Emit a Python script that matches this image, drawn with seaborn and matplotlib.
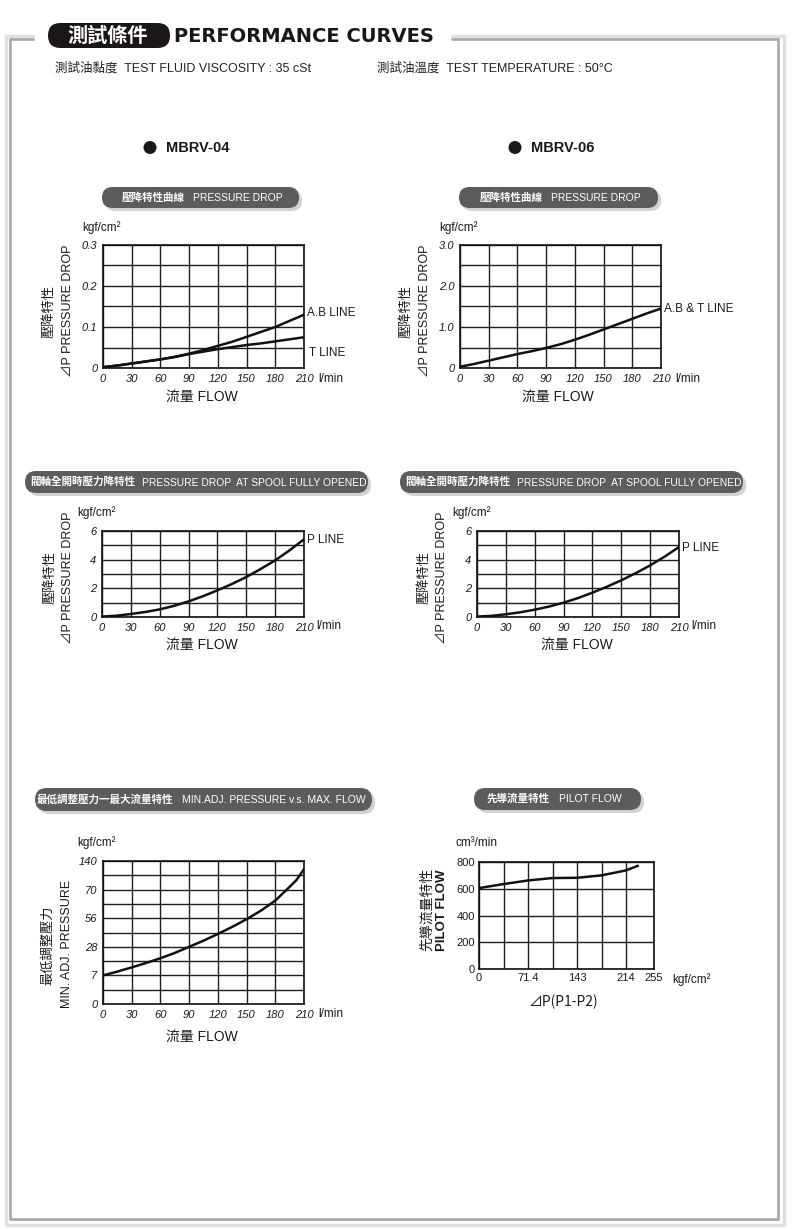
import numpy as np
import pandas as pd
import matplotlib
matplotlib.use("Agg")
import matplotlib.pyplot as plt
import seaborn as sns
from matplotlib.patches import FancyBboxPatch, Circle
from matplotlib.lines import Line2D

# ---------------- data ----------------
flow = [0, 15, 30, 45, 60, 75, 90, 105, 120, 135, 150, 165, 180, 195, 210]
mbrv04_ab_line = [0.002, 0.006, 0.011, 0.016, 0.021, 0.027, 0.035, 0.044, 0.054, 0.064, 0.076, 0.088, 0.100, 0.115, 0.130]
mbrv04_t_line = [0.002, 0.006, 0.011, 0.016, 0.021, 0.027, 0.034, 0.040, 0.046, 0.051, 0.056, 0.060, 0.065, 0.070, 0.075]
mbrv06_abt_line = [0.03, 0.10, 0.18, 0.26, 0.34, 0.41, 0.49, 0.58, 0.69, 0.81, 0.94, 1.07, 1.20, 1.33, 1.45]
mbrv04_p_line = [0.03, 0.09, 0.21, 0.35, 0.53, 0.78, 1.09, 1.45, 1.86, 2.30, 2.79, 3.35, 3.95, 4.65, 5.42]
mbrv06_p_line = [0.03, 0.08, 0.19, 0.33, 0.51, 0.73, 1.00, 1.32, 1.70, 2.11, 2.56, 3.06, 3.60, 4.21, 4.88]

minadj_flow = [0, 15, 30, 45, 60, 75, 90, 105, 120, 135, 150, 165, 180, 192, 202, 210]
minadj_pressure = [7, 9.8, 12.9, 16.1, 19.6, 23.5, 28, 34, 40.6, 47.5, 55, 59.7, 64.6, 70, 93, 120]

pilot_dp = [0, 35.7, 71.4, 107, 143, 178.5, 214, 231.6]
pilot_flow = [605, 635, 662, 680, 682, 700, 737, 772]

flow_ticks = [0, 30, 60, 90, 120, 150, 180, 210]
flow_labels = ["0", "30", "60", "90", "120", "150", "180", "210"]
pd04_ticks = [0, 0.1, 0.2, 0.3]
pd04_labels = ["0", "0.1", "0.2", "0.3"]
pd06_ticks = [0, 1, 2, 3]
pd06_labels = ["0", "1.0", "2.0", "3.0"]
spool_ticks = [0, 2, 4, 6]
spool_labels = ["0", "2", "4", "6"]
minadj_ticks = [0, 7, 28, 56, 70, 140]
minadj_labels = ["0", "7", "28", "56", "70", "140"]
pilot_xticks = [0, 71.4, 143, 214, 255]
pilot_xlabels = ["0", "71.4", "143", "214", "255"]
pilot_yticks = [0, 200, 400, 600, 800]
pilot_ylabels = ["0", "200", "400", "600", "800"]

# ---------------- setup ----------------
sns.set_theme(style="white")
plt.rcParams["font.family"] = ["Liberation Sans", "Noto Sans CJK TC", "DejaVu Sans"]
CJK = ["Noto Sans CJK TC", "DejaVu Sans"]
LAT = ["Liberation Sans", "Noto Sans CJK TC", "DejaVu Sans"]

W, H = 800, 1229
fig = plt.figure(figsize=(W / 100, H / 100), dpi=100)
fig.patch.set_facecolor("white")
bg = fig.add_axes([0, 0, 1, 1], zorder=0)
bg.set_xlim(0, W)
bg.set_ylim(H, 0)
bg.axis("off")


def add_ax(x0, y0, x1, y1):
    return fig.add_axes([x0 / W, 1 - y1 / H, (x1 - x0) / W, (y1 - y0) / H], zorder=2)


def txt(x, y, s, size, family=LAT, **kw):
    kw.setdefault("va", "center")
    kw.setdefault("ha", "left")
    kw.setdefault("color", "#1a1a1a")
    bg.text(x, y, s, fontsize=size, family=family, **kw)


# frame
bg.add_line(Line2D([33, 6, 6, 784, 784, 452], [36, 36, 1225, 1225, 36, 36], color="#e0e0e0", lw=2.5))
bg.add_line(Line2D([33, 10, 10, 778, 778, 452], [39, 39, 1219, 1219, 39, 39], color="#ababab", lw=2.0))

# header
bg.add_patch(FancyBboxPatch((48, 23), 122, 25, boxstyle="round,pad=0,rounding_size=12.5",
                            fc="#1c1717", ec="none"))
txt(108, 35.5, "測試條件", 14.5, family=CJK, weight="heavy", color="white", ha="center")
txt(174, 36, "PERFORMANCE CURVES", 14, family=["DejaVu Sans"], weight="bold", color="#1c1717")
txt(55, 68, "測試油黏度  TEST FLUID VISCOSITY : 35 cSt", 9, color="#222222")
txt(377, 68, "測試油溫度  TEST TEMPERATURE : 50°C", 9, color="#222222")

# model headings
for cx, name in [(150, "MBRV-04"), (515, "MBRV-06")]:
    bg.add_patch(Circle((cx, 147.5), 6.5, fc="#1c1717", ec="none"))
    txt(cx + 16, 148, name, 10.5, weight="bold", color="#1c1717")


def pill(x0, y0, x1, y1, cjk_x, cjk, en_x, en, en_size=7.5):
    h = y1 - y0
    bg.add_patch(FancyBboxPatch((x0 + 3, y0 + 3), x1 - x0, h,
                                boxstyle="round,pad=0,rounding_size=%f" % (h / 2),
                                fc="#d2d2d2", ec="none"))
    bg.add_patch(FancyBboxPatch((x0, y0), x1 - x0, h,
                                boxstyle="round,pad=0,rounding_size=%f" % (h / 2),
                                fc="#5c5c5c", ec="none"))
    yc = (y0 + y1) / 2
    txt(cjk_x, yc, cjk, 7.6, family=CJK, weight="bold", color="white")
    txt(en_x, yc + 0.5, en, en_size, color="white")


pill(102, 187, 299, 208, 122, "壓降特性曲線", 193, "PRESSURE DROP")
pill(459, 187, 658, 208, 480, "壓降特性曲線", 551, "PRESSURE DROP")
pill(25, 471, 368, 493, 30, "閥軸全開時壓力降特性", 142, "PRESSURE DROP  AT SPOOL FULLY OPENED", 7.4)
pill(400, 471, 743, 493, 405, "閥軸全開時壓力降特性", 517, "PRESSURE DROP  AT SPOOL FULLY OPENED", 7.4)
pill(35, 788, 372, 811, 37, "最低調整壓力一最大流量特性", 182, "MIN.ADJ. PRESSURE v.s. MAX. FLOW")
pill(474, 788, 641, 810, 487, "先導流量特性", 559, "PILOT FLOW")


def style(ax, xgrid, ygrid, xt, xtl, yt, ytl, italic=True):
    ax.set_xticks(xgrid, minor=True)
    ax.set_yticks(ygrid, minor=True)
    ax.set_xticks(xt)
    ax.set_xticklabels(xtl)
    ax.set_yticks(yt)
    ax.set_yticklabels(ytl)
    ax.grid(True, which="both", color="#1e1e1e", lw=1.0)
    ax.set_axisbelow(True)
    ax.tick_params(which="both", length=0, labelsize=8, pad=4, colors="#1a1a1a")
    for s in ax.spines.values():
        s.set_visible(True)
        s.set_color("#111111")
        s.set_linewidth(1.2)
    for lab in ax.get_xticklabels() + ax.get_yticklabels():
        lab.set_fontstyle("italic" if italic else "normal")
    ax.set_xlabel("")
    ax.set_ylabel("")
    ax.set_facecolor("white")


def curve(ax, x, y):
    df = pd.DataFrame({"x": x, "y": y})
    sns.lineplot(data=df, x="x", y="y", ax=ax, color="#111111", lw=1.8)


flow_grid = flow_ticks

# ---- A1: MBRV-04 pressure drop
a1 = add_ax(103, 245, 304, 368)
curve(a1, flow, mbrv04_ab_line)
curve(a1, flow, mbrv04_t_line)
a1.set_xlim(0, 210); a1.set_ylim(0, 0.3)
style(a1, flow_grid, np.arange(0, 0.31, 0.05), flow_ticks, flow_labels, pd04_ticks, pd04_labels)

# ---- A2: MBRV-06 pressure drop
a2 = add_ax(460, 245, 661, 368)
curve(a2, flow, mbrv06_abt_line)
a2.set_xlim(0, 210); a2.set_ylim(0, 3.0)
style(a2, flow_grid, np.arange(0, 3.01, 0.5), flow_ticks, flow_labels, pd06_ticks, pd06_labels)

# ---- A3, A4: spool fully opened
a3 = add_ax(102, 531, 304, 617)
curve(a3, flow, mbrv04_p_line)
a3.set_xlim(0, 210); a3.set_ylim(0, 6)
style(a3, flow_grid, np.arange(0, 7, 1), flow_ticks, flow_labels, spool_ticks, spool_labels)

a4 = add_ax(477, 531, 679, 617)
curve(a4, flow, mbrv06_p_line)
a4.set_xlim(0, 210); a4.set_ylim(0, 6)
style(a4, flow_grid, np.arange(0, 7, 1), flow_ticks, flow_labels, spool_ticks, spool_labels)

# ---- A5: min adj pressure (non-linear axis)
idx = [0, 2, 4, 6, 8, 10]
fwd = lambda v: np.interp(v, minadj_ticks, idx)
inv = lambda i: np.interp(i, idx, minadj_ticks)
a5 = add_ax(103, 861, 304, 1004)
a5.set_yscale("function", functions=(fwd, inv))
curve(a5, minadj_flow, minadj_pressure)
a5.set_xlim(0, 210); a5.set_ylim(0, 140)
style(a5, flow_grid, inv(np.arange(0, 11)), flow_ticks, flow_labels, minadj_ticks, minadj_labels)

# ---- A6: pilot flow
a6 = add_ax(479, 862, 654, 969)
curve(a6, pilot_dp, pilot_flow)
a6.set_xlim(0, 255); a6.set_ylim(0, 800)
style(a6, [0, 35.7, 71.4, 107.1, 143, 178.5, 214, 255], pilot_yticks, pilot_xticks, pilot_xlabels,
      pilot_yticks, pilot_ylabels, italic=False)
a6.tick_params(pad=3)

# ---------------- annotations ----------------
for (ux, uy) in [(82, 228), (439, 228), (77, 513), (452, 513), (77, 843)]:
    txt(ux, uy, "kgf/cm²", 8.5)
txt(455, 843, "cm³/min", 8.5)

for (lx, ly) in [(318, 379), (675, 379), (316, 626), (691, 626), (318, 1014)]:
    txt(lx, ly, "l/min", 8.5)
txt(672, 980, "kgf/cm²", 8.5)

for (cx, cy) in [(202, 397), (558, 397), (202, 645), (577, 645), (202, 1037)]:
    txt(cx, cy, "流量 FLOW", 10, ha="center")
txt(563, 1002, "⊿P(P1-P2)", 10, ha="center", family=CJK)

# rotated y labels
for (x1, x2, yc) in [(49, 68, 311), (406, 425, 311), (50, 68, 578), (424, 442, 578)]:
    txt(x1, yc, "壓降特性", 9.5, family=CJK, rotation=90, ha="center")
    txt(x2, yc, "⊿P PRESSURE DROP", 9, rotation=90, ha="center")
txt(48, 945, "最低調整壓力", 9.5, family=CJK, rotation=90, ha="center")
txt(67, 944, "MIN. ADJ. PRESSURE", 9, rotation=90, ha="center")
txt(427, 909, "先導流量特性", 10, family=CJK, rotation=90, ha="center")
txt(442, 910, "PILOT FLOW", 9.5, rotation=90, ha="center", weight="bold")

# line labels
txt(307, 313, "A.B LINE", 8.5)
txt(309, 353, "T LINE", 8.5)
txt(664, 309, "A.B & T LINE", 8.5)
txt(307, 540, "P LINE", 8.5)
txt(682, 548, "P LINE", 8.5)

fig.savefig("out.png", dpi=100, facecolor="white")
